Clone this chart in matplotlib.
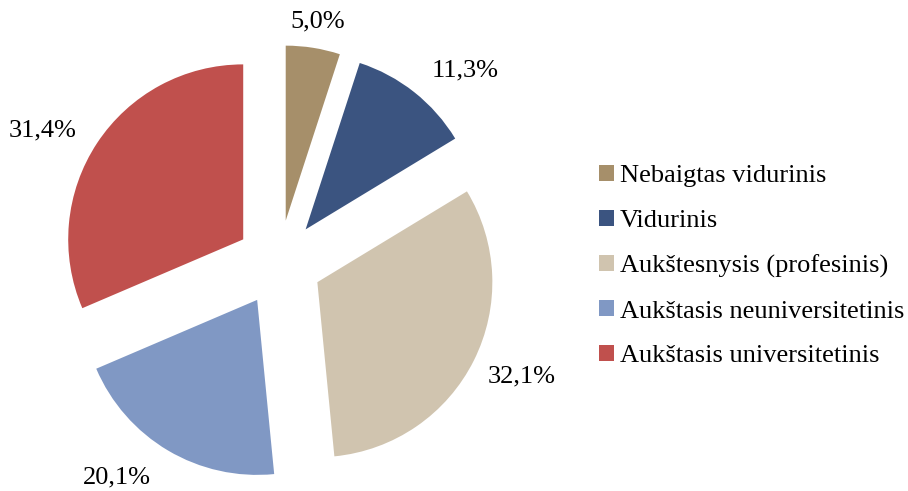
import matplotlib.pyplot as plt
import numpy as np

plt.rcParams['font.family'] = ['Liberation Serif', 'DejaVu Serif']

categories = ['Nebaigtas vidurinis', 'Vidurinis', 'Aukštesnysis (profesinis)',
              'Aukštasis neuniversitetinis', 'Aukštasis universitetinis']
values = [5.0, 11.3, 32.1, 20.1, 31.4]
colors = ['#A68F6A', '#3B5480', '#D0C4AF', '#8098C4', '#C0504D']

# label placement (radius from centre, angle nudge in degrees)
lab_r = [1.40, 1.53, 1.53, 1.535, 1.55]
lab_da = [0, -5.6, 1.5, -6.4, 4.2]

fig = plt.figure(figsize=(9.08, 4.91), dpi=100)
ax = fig.add_axes([0, 0, 1, 1])

wedges, _ = ax.pie(values, colors=colors, startangle=90, counterclock=False,
                   explode=[0.245] * len(values), radius=1.0,
                   wedgeprops=dict(linewidth=0))

for w, v, r, da in zip(wedges, values, lab_r, lab_da):
    a = np.deg2rad((w.theta1 + w.theta2) / 2 + da)
    ax.text(r * np.cos(a), r * np.sin(a), f'{v:.1f}%'.replace('.', ','),
            ha='center', va='center', fontsize=19)

ax.set_aspect('auto')
ax.set_xlim(-279 / 175, (908 - 279) / 175)
ax.set_ylim((263 - 491) / 175, 263 / 175)
ax.axis('off')

fig.legend(wedges, categories, loc='upper left', bbox_to_anchor=(599 / 908, 1 - 165 / 491),
           frameon=False, fontsize=19, handlelength=0.55, handleheight=0.55,
           handletextpad=0.25, labelspacing=0.85, borderpad=0, borderaxespad=0)

fig.savefig('out.png', dpi=100)
